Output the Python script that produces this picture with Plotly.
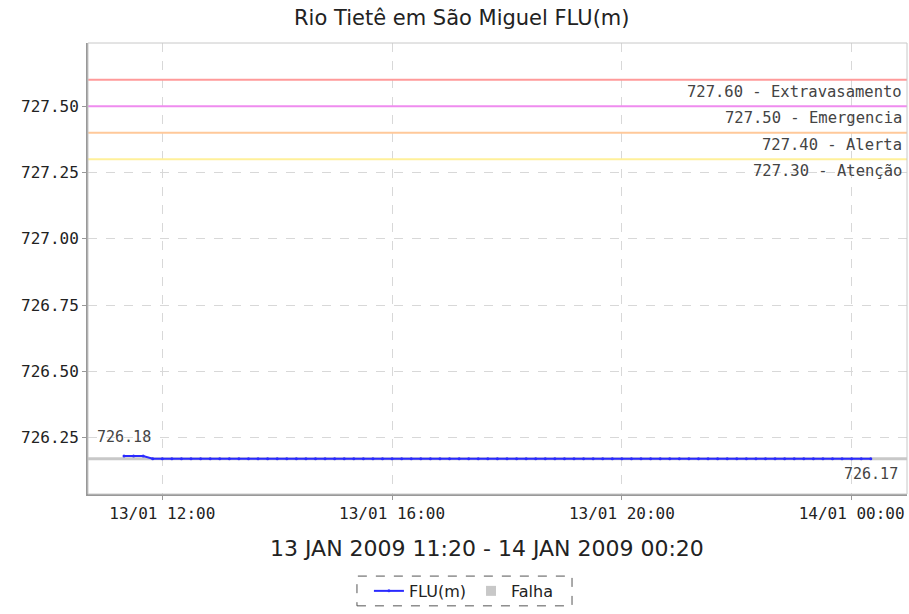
import plotly.graph_objects as go
import pandas as pd

# ---- data ----
title_text = "Rio Tietê em São Miguel FLU(m)"
x_title = "13 JAN 2009 11:20 - 14 JAN 2009 00:20"
times = pd.date_range("2009-01-13 11:20", "2009-01-14 00:20", freq="10min")
flu_values = [726.18, 726.18, 726.18] + [726.17] * 76
first_label = "726.18"
last_label = "726.17"

threshold_values = [727.60, 727.50, 727.40, 727.30]
threshold_names = ["Extravasamento", "Emergencia", "Alerta", "Atenção"]
threshold_colors = ["#ff9a9a", "#ef8cef", "#ffc99a", "#fff09a"]
falha_level = 726.17

y_ticks = [726.25, 726.50, 726.75, 727.00, 727.25, 727.50]
x_range = ["2009-01-13 10:42:24", "2009-01-14 00:57:48"]
y_range = [726.037, 727.739]

mono = "DejaVu Sans Mono"
sans = "DejaVu Sans"

fig = go.Figure()

fig.add_trace(go.Scatter(
    x=x_range, y=[falha_level, falha_level], mode="lines",
    line=dict(color="#c8c8c8", width=3), showlegend=False, hoverinfo="skip"))

for v, c in zip(threshold_values, threshold_colors):
    fig.add_trace(go.Scatter(
        x=x_range, y=[v, v], mode="lines",
        line=dict(color=c, width=2), showlegend=False, hoverinfo="skip"))

fig.add_trace(go.Scatter(
    x=times, y=flu_values, mode="lines+markers", name="FLU(m)",
    line=dict(color="#2a2aff", width=2),
    marker=dict(color="#2a2aff", size=3, symbol="circle")))

fig.add_trace(go.Scatter(
    x=[None], y=[None], mode="markers", name="Falha",
    marker=dict(color="#c8c8c8", size=10, symbol="square")))

annotations = []
for v, n in zip(threshold_values, threshold_names):
    annotations.append(dict(
        x=1, xref="paper", y=v, yref="y", xanchor="right", yanchor="top",
        xshift=-3, yshift=-1, showarrow=False,
        text=f"{v:.2f} - {n}", font=dict(family=mono, size=15.5, color="#444")))

annotations.append(dict(
    x=times[0], y=flu_values[0], xref="x", yref="y", xanchor="center",
    yanchor="bottom", yshift=8, showarrow=False, text=first_label,
    font=dict(family=mono, size=15, color="#444")))
annotations.append(dict(
    x=times[-1], y=flu_values[-1], xref="x", yref="y", xanchor="center",
    yanchor="top", yshift=-4, showarrow=False, text=last_label,
    font=dict(family=mono, size=15, color="#444")))

annotations.append(dict(
    x=0.487, xref="paper", y=-0.12, yref="paper", xanchor="center",
    yanchor="middle", showarrow=False, text=x_title,
    font=dict(family=sans, size=22, color="#222")))

fig.update_layout(
    width=909, height=614,
    margin=dict(l=88, r=2, t=43, b=120),
    paper_bgcolor="white", plot_bgcolor="white",
    title=dict(text=title_text, x=0.508, xref="container", xanchor="center",
               y=0.972, yref="container", yanchor="middle",
               font=dict(family=sans, size=21, color="#222")),
    showlegend=True,
    legend=dict(orientation="h", x=0.459, xanchor="center", y=-0.215,
                yanchor="middle", font=dict(family=sans, size=16, color="#222"),
                bgcolor="rgba(0,0,0,0)", itemwidth=30, tracegroupgap=0),
    annotations=annotations,
    shapes=[
        dict(type="rect", xref="paper", yref="paper", x0=0, x1=1, y0=0, y1=1,
             line=dict(color="#c8c8c8", width=1), layer="above"),
        dict(type="rect", xref="paper", yref="paper", x0=0.3284, x1=0.591,
             y0=-0.248, y1=-0.182, line=dict(color="#555", width=1, dash="dash")),
    ],
)

fig.update_xaxes(
    range=x_range, type="date", tickformat="%d/%m %H:%M",
    dtick=4 * 3600 * 1000, tick0="2009-01-13 00:00",
    showgrid=True, gridcolor="#d8d8d8", griddash="dash", gridwidth=1,
    showline=True, linecolor="#999", linewidth=2,
    ticks="outside", ticklen=4, tickcolor="#999",
    tickfont=dict(family=mono, size=16, color="#222"), zeroline=False)

fig.update_yaxes(
    range=y_range, tickvals=y_ticks, tickformat=".2f",
    showgrid=True, gridcolor="#d8d8d8", griddash="dash", gridwidth=1,
    showline=True, linecolor="#999", linewidth=2,
    ticks="outside", ticklen=4, tickcolor="#999",
    tickfont=dict(family=mono, size=16, color="#222"), zeroline=False)

fig.write_html("out.html", config={"displayModeBar": False},
               post_script="document.body.style.margin='0';document.body.style.padding='0';")
